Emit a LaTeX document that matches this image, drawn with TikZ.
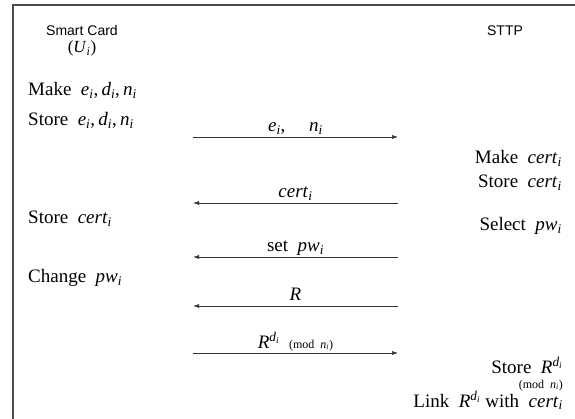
\RequirePackage{fix-cm}
\documentclass[tikz,border=0pt]{standalone}
\usepackage{fontspec}
\setmainfont{Liberation Serif}
\setsansfont{Liberation Sans}
\usetikzlibrary{positioning,arrows.meta}
\newcommand{\ivar}[2]{\textit{#1}\textsubscript{\textit{#2}}}
\newcommand{\sig}{\textit{R}\textsuperscript{\ivar{d}{i}}}

\begin{document}
\begin{tikzpicture}[
      x=1pt, y=-1pt,
      nodes={inner sep=0pt, font=\fontsize{19}{22}\selectfont},
      party/.style={anchor=base, font=\sffamily\fontsize{14}{16}\selectfont},
      lft/.style={anchor=base west},
      rgt/.style={anchor=base east},
      msg/.style={draw=black!80, semithick, ->},
      lbl/.style={midway, anchor=base, yshift=5pt},
      tiny/.style={font=\fontsize{12}{14}\selectfont},
      >={Latex[length=6pt,width=4pt]}
      ]

  \useasboundingbox (0,0) rectangle (575,419);
  \draw[black!70, line width=1.6pt] (13,419) -- (13,5) -- (575,5);

  % the two parties
  \node[party] (card) at (82,36) {Smart Card};
  \node[anchor=base, font=\fontsize{17}{19}\selectfont] (user) at ([yshift=-17pt]card.base) {(\ivar{U}{i})};
  \node[party] (sttp) at (505,36) {STTP};

  % smart card side
  \node[lft] (mkkey) at (28,96) {Make \ \ivar{e}{i},\,\ivar{d}{i},\,\ivar{n}{i}};
  \node[lft] (stkey) at ([yshift=-30pt]mkkey.base west) {Store \ \ivar{e}{i},\,\ivar{d}{i},\,\ivar{n}{i}};
  \node[lft] (stcert) at (28,224) {Store \ \ivar{cert}{i}};
  \node[lft] (chpw) at (28,283) {Change \ \ivar{pw}{i}};

  % sttp side
  \node[rgt] (mkcert) at (562,164) {Make \ \ivar{cert}{i}};
  \node[rgt] (stcert2) at ([yshift=-24pt]mkcert.base east) {Store \ \ivar{cert}{i}};
  \node[rgt] (selpw) at (562,231) {Select \ \ivar{pw}{i}};
  \node[rgt] (stsig) at (563,373) {Store \ \sig};
  \node[rgt, tiny] (stmod) at (563,388) {(mod \ \ivar{n}{i})};
  \node[rgt] (lnk) at (563,407) {Link \ \sig{} with \ \ivar{cert}{i}};

  % message ends
  \coordinate (m1a) at (193,137); \coordinate (m1b) at (398,137);
  \coordinate (m2a) at (193,203); \coordinate (m2b) at (398,203);
  \coordinate (m3a) at (193,257); \coordinate (m3b) at (398,257);
  \coordinate (m4a) at (193,306); \coordinate (m4b) at (398,306);
  \coordinate (m5a) at (193,353); \coordinate (m5b) at (398,353);

  % Connect the nodes
  \draw[msg] (m1a) -- node[lbl] {\ivar{e}{i}, \quad \ivar{n}{i}} (m1b);
  \draw[msg] (m2b) -- node[lbl] {\ivar{cert}{i}} (m2a);
  \draw[msg] (m3b) -- node[lbl] {set \ \ivar{pw}{i}} (m3a);
  \draw[msg] (m4b) -- node[lbl] {\textit{R}} (m4a);
  \draw[msg] (m5a) -- node[lbl] {\sig{} \ {\fontsize{12}{14}\selectfont (mod \ \ivar{n}{i})}} (m5b);

\end{tikzpicture}
\end{document}
